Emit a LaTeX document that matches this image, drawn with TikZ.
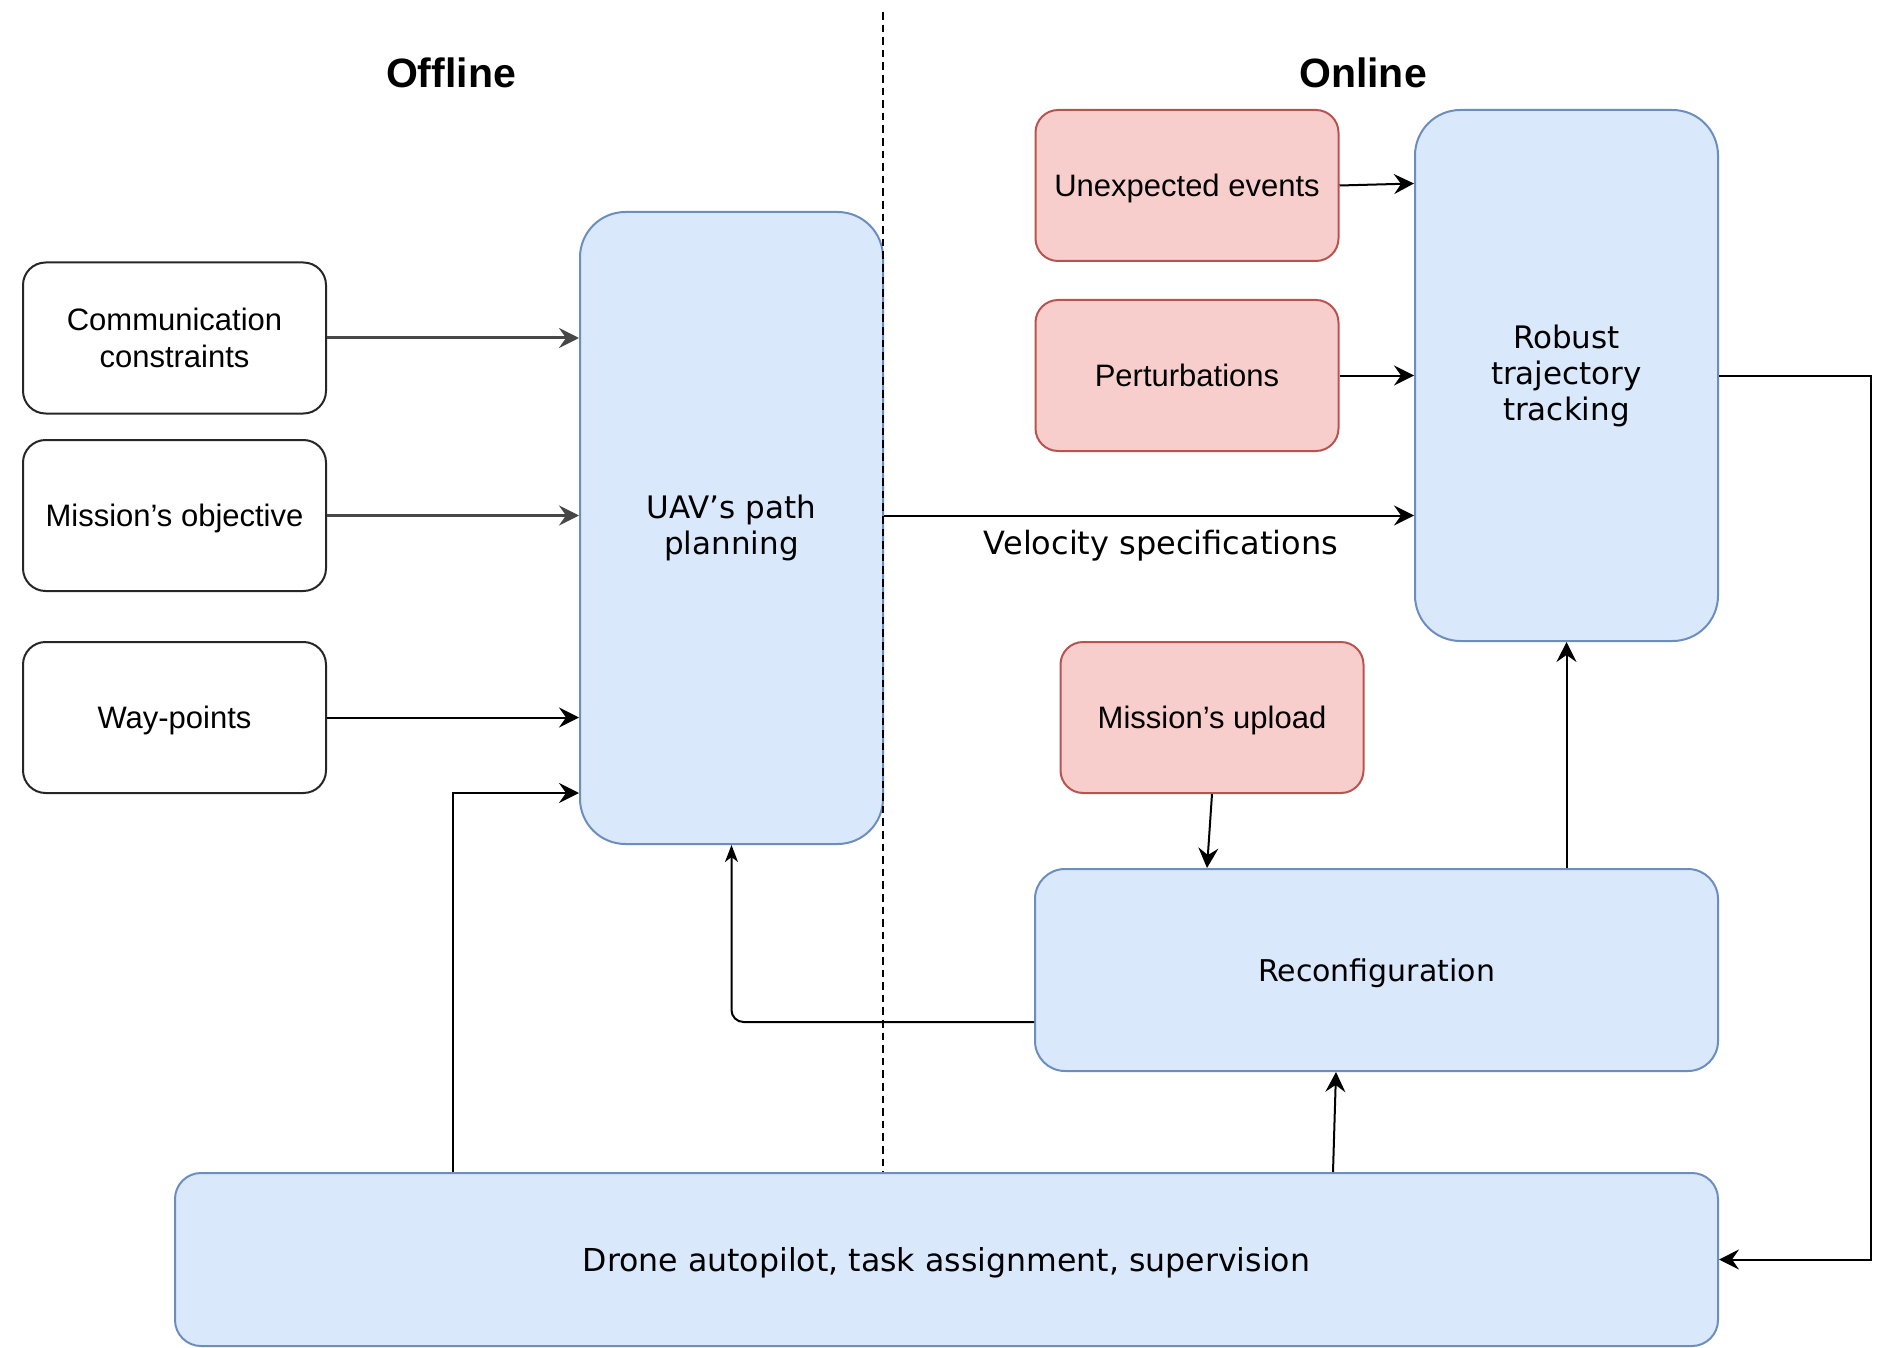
\documentclass[tikz,border=0pt]{standalone}
\usepackage{fontspec}
\setmainfont{Liberation Sans}
\newfontfamily\wideface{DejaVu Sans}
\usetikzlibrary{arrows.meta,calc}

\definecolor{bluefill}{HTML}{DAE8FC}
\definecolor{blueline}{HTML}{6C8EBF}
\definecolor{redfill}{HTML}{F8CECC}
\definecolor{redline}{HTML}{B85450}

\begin{document}
\begin{tikzpicture}[x=0.5pt,y=-0.5pt,
  smallbox/.style={rounded corners=11.3pt, minimum width=151.5pt, minimum height=75.5pt,
    align=center, inner sep=0pt, line width=1pt, text depth=0pt,
    font=\fontsize{15.5}{18.75}\selectfont},
  whitebox/.style={smallbox, draw=black!85, fill=white},
  redbox/.style={smallbox, draw=redline, fill=redfill},
  bluebox/.style={draw=blueline, fill=bluefill, align=center, inner sep=0pt, line width=1pt,
    font=\wideface\fontsize{15.5}{18}\selectfont},
  title/.style={font=\bfseries\fontsize{20.5}{24}\selectfont},
  arr/.style={-{Stealth[length=10pt,width=10pt,inset=3.5pt]}, line width=1pt, black},
  arrthick/.style={arr, line width=1.5pt, black!72},
  arrsmall/.style={-{Stealth[length=8.5pt,width=6.5pt,inset=2.5pt]}, line width=1pt, black},
  divider/.style={line width=0.75pt, dash pattern=on 3.8pt off 2.5pt, black}]

\useasboundingbox (0,0) rectangle (1896,1348);

% section titles
\node[title] (offl) at (451,73) {Offline};
\node[title] (onl) at (1363,73) {Online};

% offline inputs
\node[whitebox, text depth={}] (comm) at (174.5,338) {Communication\\constraints};
\node[whitebox] (obj) at (174.5,515.5) {Mission's objective};
\node[whitebox] (wp) at (174.5,717.5) {Way-points};

% path planner
\node[bluebox, minimum width=151.5pt, minimum height=316pt, rounded corners=22.7pt]
  (uav) at (731.5,528) {UAV’s path\\planning};

% online disturbances and events
\node[redbox] (unexp) at (1187,185.5) {Unexpected events};
\node[redbox] (pert) at (1187,375.5) {Perturbations};
\node[redbox] (upload) at (1212,717.5) {Mission's upload};

% tracking controller
\node[bluebox, minimum width=151.5pt, minimum height=265.5pt, rounded corners=22.7pt]
  (robust) at (1566.5,375.5) {Robust\\trajectory\\tracking};

% reconfiguration block
\node[bluebox, minimum width=341.5pt, minimum height=101pt, rounded corners=15pt,
  text depth=0pt, font=\wideface\fontsize{15}{18}\selectfont]
  (reconf) at (1376.5,970) {Reconfiguration};

% low-level layer
\node[bluebox, minimum width=771.5pt, minimum height=86.5pt, rounded corners=13pt,
  text depth=0pt, font=\wideface\fontsize{15.8}{19}\selectfont]
  (drone) at (946.5,1259.5) {Drone autopilot, task assignment, supervision};

% edge label
\node[font=\wideface\fontsize{16}{19}\selectfont, text depth=0pt] (vel) at (1161,542)
  {Velocity specifications};

% routing points
\coordinate (tapA) at (453,793);
\coordinate (backY) at (0,1022);
\coordinate (upD) at (1333,0);
\coordinate (rail) at (1871,0);
\coordinate (divtop) at (883,12);

% offline inputs into the planner
\draw[arrthick] (comm.east) -- (uav.west |- comm.east);
\draw[arrthick] (obj.east) -- (uav.west |- obj.east);
\draw[arr] (wp.east) -- (uav.west |- wp.east);
\draw[arr] (drone.north -| tapA) |- (uav.west |- tapA);

% planner to tracking
\draw[arr] (uav.east |- obj.east) -- (robust.west |- obj.east);

% online inputs into tracking
\draw[arr] (unexp.east) -- ($(robust.west |- unexp.east)+(0,-2)$);
\draw[arr] (pert.east) -- (robust.west |- pert.east);

% reconfiguration loop
\draw[arr] (upload.south) -- ($(upload.south |- reconf.north)+(-5,0)$);
\draw[arr] (reconf.north -| robust.south) -- (robust.south);
\draw[arrsmall, rounded corners=6pt] (reconf.west |- backY) -| (uav.south);
\draw[arr] (drone.north -| upD) -- ($(reconf.south -| upD)+(3,0)$);
\draw[arr] (robust.east) -- (robust.east -| rail) |- (drone.east);

% offline / online boundary
\draw[divider] (divtop) -- (drone.north -| divtop);

\end{tikzpicture}
\end{document}
